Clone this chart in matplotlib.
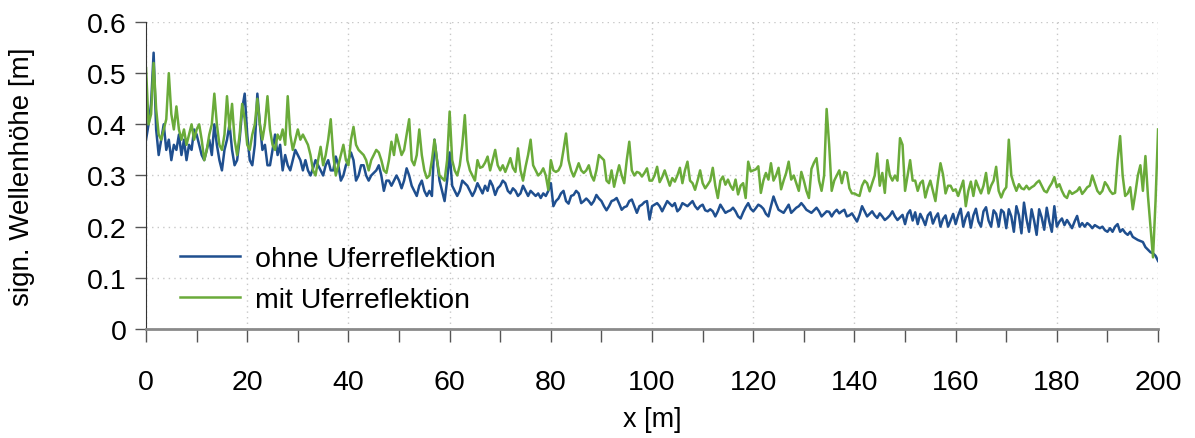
import numpy as np
import matplotlib
matplotlib.use("Agg")
import matplotlib.pyplot as plt
from matplotlib.ticker import MultipleLocator

# significant wave height along the channel, sampled every 0.5 m (0 ... 200 m)
hs_ohne = [
    0.37, 0.40, 0.44, 0.54, 0.39, 0.34, 0.37, 0.40, 0.35, 0.37, 0.33, 0.36, 0.35, 0.38, 0.34, 0.37, 0.33, 0.36, 0.35, 0.39,
    0.38, 0.36, 0.34, 0.33, 0.35, 0.37, 0.34, 0.40, 0.36, 0.33, 0.31, 0.35, 0.37, 0.40, 0.35, 0.32, 0.33, 0.37, 0.43, 0.46,
    0.38, 0.33, 0.32, 0.36, 0.46, 0.40, 0.35, 0.36, 0.32, 0.32, 0.35, 0.38, 0.34, 0.36, 0.31, 0.34, 0.32, 0.31, 0.33, 0.35,
    0.34, 0.33, 0.31, 0.33, 0.31, 0.30, 0.314, 0.33, 0.32, 0.31, 0.30, 0.32, 0.33, 0.31, 0.31, 0.337, 0.32, 0.29, 0.30, 0.32,
    0.33, 0.345, 0.33, 0.29, 0.30, 0.32, 0.32, 0.30, 0.29, 0.30, 0.305, 0.31, 0.32, 0.30, 0.27, 0.29, 0.29, 0.28, 0.29, 0.30,
    0.29, 0.275, 0.29, 0.314, 0.30, 0.28, 0.27, 0.26, 0.28, 0.29, 0.27, 0.26, 0.27, 0.26, 0.37, 0.33, 0.29, 0.27, 0.25, 0.29,
    0.345, 0.28, 0.27, 0.26, 0.27, 0.29, 0.285, 0.28, 0.27, 0.26, 0.27, 0.285, 0.275, 0.265, 0.28, 0.27, 0.29, 0.28, 0.262, 0.275,
    0.28, 0.29, 0.285, 0.27, 0.265, 0.275, 0.27, 0.26, 0.265, 0.28, 0.27, 0.26, 0.27, 0.265, 0.26, 0.265, 0.256, 0.265, 0.26, 0.27,
    0.285, 0.24, 0.25, 0.255, 0.265, 0.27, 0.25, 0.245, 0.26, 0.262, 0.27, 0.265, 0.246, 0.25, 0.255, 0.25, 0.243, 0.25, 0.262, 0.255,
    0.25, 0.24, 0.232, 0.24, 0.25, 0.252, 0.256, 0.245, 0.233, 0.238, 0.24, 0.25, 0.253, 0.24, 0.227, 0.24, 0.243, 0.248, 0.25, 0.214,
    0.24, 0.243, 0.246, 0.24, 0.23, 0.24, 0.25, 0.245, 0.24, 0.246, 0.23, 0.235, 0.246, 0.243, 0.24, 0.245, 0.25, 0.24, 0.234, 0.24,
    0.243, 0.232, 0.23, 0.234, 0.23, 0.22, 0.23, 0.243, 0.235, 0.227, 0.23, 0.232, 0.237, 0.23, 0.22, 0.216, 0.228, 0.238, 0.246, 0.235,
    0.23, 0.236, 0.243, 0.24, 0.235, 0.225, 0.22, 0.24, 0.259, 0.245, 0.233, 0.23, 0.227, 0.235, 0.243, 0.227, 0.232, 0.237, 0.24, 0.246,
    0.24, 0.233, 0.23, 0.227, 0.232, 0.237, 0.23, 0.22, 0.225, 0.23, 0.229, 0.22, 0.228, 0.233, 0.226, 0.23, 0.233, 0.22, 0.222, 0.226,
    0.218, 0.21, 0.223, 0.24, 0.23, 0.22, 0.225, 0.23, 0.222, 0.217, 0.226, 0.22, 0.213, 0.217, 0.222, 0.23, 0.22, 0.213, 0.218, 0.223,
    0.205, 0.225, 0.232, 0.212, 0.228, 0.205, 0.225, 0.215, 0.203, 0.222, 0.228, 0.206, 0.218, 0.226, 0.20, 0.215, 0.222, 0.20, 0.212, 0.225,
    0.205, 0.222, 0.235, 0.20, 0.218, 0.228, 0.198, 0.222, 0.235, 0.21, 0.20, 0.23, 0.238, 0.212, 0.20, 0.232, 0.225, 0.20, 0.233, 0.228,
    0.197, 0.234, 0.22, 0.19, 0.24, 0.222, 0.187, 0.247, 0.215, 0.19, 0.234, 0.212, 0.184, 0.234, 0.218, 0.194, 0.237, 0.21, 0.19, 0.24,
    0.20, 0.21, 0.216, 0.203, 0.213, 0.205, 0.197, 0.21, 0.221, 0.20, 0.207, 0.20, 0.207, 0.203, 0.197, 0.203, 0.20, 0.197, 0.20, 0.193,
    0.19, 0.197, 0.19, 0.20, 0.205, 0.19, 0.195, 0.188, 0.184, 0.19, 0.18, 0.177, 0.174, 0.172, 0.17, 0.16, 0.155, 0.15, 0.148, 0.143,
    0.133,
]

hs_mit = [
    0.51, 0.40, 0.42, 0.52, 0.43, 0.38, 0.37, 0.39, 0.41, 0.50, 0.42, 0.39, 0.435, 0.39, 0.37, 0.39, 0.36, 0.38, 0.40, 0.37,
    0.39, 0.40, 0.37, 0.33, 0.35, 0.38, 0.40, 0.46, 0.40, 0.36, 0.35, 0.38, 0.455, 0.39, 0.44, 0.37, 0.34, 0.38, 0.44, 0.41,
    0.36, 0.35, 0.38, 0.40, 0.45, 0.40, 0.37, 0.40, 0.455, 0.39, 0.36, 0.35, 0.38, 0.37, 0.39, 0.36, 0.455, 0.38, 0.35, 0.37,
    0.39, 0.37, 0.38, 0.37, 0.36, 0.34, 0.31, 0.30, 0.33, 0.356, 0.32, 0.34, 0.37, 0.41, 0.34, 0.30, 0.32, 0.34, 0.36, 0.33,
    0.32, 0.37, 0.395, 0.36, 0.35, 0.345, 0.34, 0.33, 0.31, 0.33, 0.34, 0.35, 0.345, 0.33, 0.31, 0.305, 0.33, 0.366, 0.34, 0.38,
    0.36, 0.34, 0.35, 0.38, 0.41, 0.33, 0.32, 0.34, 0.39, 0.34, 0.31, 0.295, 0.30, 0.33, 0.37, 0.33, 0.30, 0.295, 0.29, 0.33,
    0.425, 0.33, 0.31, 0.30, 0.32, 0.36, 0.418, 0.33, 0.31, 0.30, 0.29, 0.33, 0.315, 0.317, 0.325, 0.337, 0.31, 0.33, 0.35, 0.32,
    0.31, 0.32, 0.307, 0.32, 0.334, 0.315, 0.307, 0.353, 0.31, 0.29, 0.317, 0.34, 0.37, 0.32, 0.31, 0.30, 0.305, 0.314, 0.30, 0.272,
    0.33, 0.31, 0.307, 0.31, 0.32, 0.35, 0.382, 0.33, 0.31, 0.298, 0.31, 0.324, 0.31, 0.305, 0.31, 0.32, 0.30, 0.29, 0.31, 0.34,
    0.335, 0.33, 0.29, 0.285, 0.31, 0.278, 0.30, 0.32, 0.30, 0.285, 0.33, 0.366, 0.31, 0.30, 0.307, 0.305, 0.298, 0.305, 0.314, 0.29,
    0.29, 0.30, 0.317, 0.287, 0.297, 0.31, 0.295, 0.28, 0.295, 0.288, 0.30, 0.315, 0.285, 0.31, 0.327, 0.29, 0.285, 0.272, 0.29, 0.31,
    0.285, 0.275, 0.282, 0.29, 0.315, 0.28, 0.256, 0.29, 0.298, 0.282, 0.292, 0.28, 0.272, 0.292, 0.263, 0.28, 0.285, 0.256, 0.327, 0.308,
    0.31, 0.312, 0.318, 0.266, 0.29, 0.305, 0.292, 0.324, 0.29, 0.30, 0.315, 0.273, 0.29, 0.305, 0.327, 0.292, 0.30, 0.285, 0.27, 0.307,
    0.29, 0.27, 0.256, 0.313, 0.325, 0.334, 0.29, 0.27, 0.30, 0.43, 0.36, 0.27, 0.29, 0.30, 0.31, 0.285, 0.307, 0.305, 0.275, 0.265,
    0.265, 0.262, 0.26, 0.28, 0.29, 0.285, 0.269, 0.285, 0.30, 0.343, 0.28, 0.305, 0.266, 0.33, 0.30, 0.29, 0.30, 0.29, 0.373, 0.36,
    0.27, 0.30, 0.33, 0.29, 0.29, 0.27, 0.285, 0.29, 0.257, 0.276, 0.29, 0.27, 0.25, 0.29, 0.324, 0.302, 0.265, 0.28, 0.28, 0.27,
    0.273, 0.26, 0.275, 0.29, 0.24, 0.27, 0.288, 0.26, 0.29, 0.277, 0.265, 0.28, 0.305, 0.265, 0.28, 0.29, 0.317, 0.27, 0.257, 0.27,
    0.277, 0.37, 0.30, 0.283, 0.27, 0.283, 0.275, 0.273, 0.28, 0.273, 0.277, 0.28, 0.286, 0.29, 0.28, 0.27, 0.267, 0.277, 0.285, 0.297,
    0.277, 0.283, 0.27, 0.26, 0.256, 0.27, 0.264, 0.267, 0.27, 0.277, 0.264, 0.27, 0.277, 0.28, 0.30, 0.285, 0.27, 0.264, 0.27, 0.287,
    0.28, 0.27, 0.264, 0.266, 0.33, 0.377, 0.30, 0.26, 0.265, 0.277, 0.234, 0.265, 0.30, 0.32, 0.27, 0.338, 0.26, 0.20, 0.14, 0.25,
    0.39,
]

x_pos = np.linspace(0, 200, len(hs_ohne))

blue = "#1f4f8f"
green = "#6aab3a"

plt.rcParams["font.family"] = ["Liberation Sans", "DejaVu Sans"]

fig = plt.figure(figsize=(11.95, 4.39), dpi=100)
ax = fig.add_axes([0.1222, 0.2483, 0.8469, 0.6993])

ax.plot(x_pos, hs_ohne, color=blue, lw=1.8, label="ohne Uferreflektion")
ax.plot(x_pos, hs_mit, color=green, lw=1.8, label="mit Uferreflektion")

ax.set_xlim(0, 200)
ax.set_ylim(0, 0.6)
ax.xaxis.set_major_locator(MultipleLocator(20))
ax.xaxis.set_minor_locator(MultipleLocator(10))
ax.set_yticks([0, 0.1, 0.2, 0.3, 0.4, 0.5, 0.6])
ax.set_yticklabels(["0", "0.1", "0.2", "0.3", "0.4", "0.5", "0.6"])

ax.grid(True, which="major", color="#c8c8c8", linestyle=(0, (1, 3)), linewidth=1.0)
ax.set_axisbelow(True)

for side in ("top", "right"):
    ax.spines[side].set_visible(False)
ax.spines["left"].set_color("#333333")
ax.spines["bottom"].set_color("#8a8a8a")
ax.spines["bottom"].set_linewidth(2.0)

ax.tick_params(axis="x", which="both", direction="out", length=9, width=1.0,
               color="#555555", labelsize=20.5, pad=20)
ax.tick_params(axis="y", which="major", direction="out", length=8, width=1.0,
               color="#555555", labelsize=20.5, pad=6)

ax.set_xlabel("x [m]", fontsize=19.5, labelpad=8)
ax.set_ylabel("sign. Wellenhöhe [m]", fontsize=20, labelpad=37)

ax.legend(loc="lower left", bbox_to_anchor=(0.008, -0.03), frameon=False,
          fontsize=20.5, handlelength=2.1, handletextpad=0.55, labelspacing=0.5)

fig.savefig("out.png", dpi=100)
